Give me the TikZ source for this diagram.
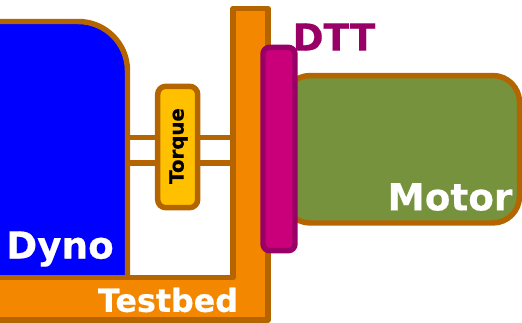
\documentclass[tikz,border=0pt]{standalone}
\usepackage{fontspec}
\setmainfont[BoldFeatures={FakeBold=0.5}]{DejaVu Sans}
\usetikzlibrary{positioning}
\definecolor{rimbrown}{RGB}{180, 101, 0}
\definecolor{bedorange}{RGB}{243, 136, 0}
\definecolor{torqueyellow}{RGB}{255, 192, 0}
\definecolor{motorgreen}{RGB}{118, 146, 60}
\definecolor{dttpink}{RGB}{201, 0, 122}
\definecolor{dttdark}{RGB}{153, 0, 102}
\tikzset{
  part/.style={draw=rimbrown, line width=4.1pt, line join=round},
  biglabel/.style={font=\bfseries\fontsize{28}{30}\selectfont, inner sep=0pt},
}

\begin{document}
\begin{tikzpicture}[x=0.75pt, y=-0.75pt]
    \clip (0,0) rectangle (522,322);

    % Shafts
    \coordinate (shaftA) at (127.5,137.5);
    \coordinate (shaftB) at (127.5,163);
    \coordinate (bedface) at (233,150);
    \foreach \s in {shaftA, shaftB}
      \draw[part] (\s) -- (bedface |- \s);

    % Dyno
    \draw[part, fill=blue, rounded corners=37pt] (-80,277.5) -- (-80,21.5) -- (127.5,21.5) -- (127.5,340) -- cycle;
    \node[biglabel, text=white] (dyno) at (60,249) {Dyno};

    % Testbed
    \draw[part, fill=bedorange] (-40,277.5) -- (233,277.5) -- (233,8.5) -- (268,8.5) -- (268,320) -- (-40,320) -- cycle;
    \node[biglabel, text=white, font=\bfseries\fontsize{23.8}{26}\selectfont] (testbed) at (168,300) {Testbed};

    % Torque sensor
    \node[part, fill=torqueyellow, rounded corners=6pt, minimum width=30pt, minimum height=91pt, inner sep=0pt] (torque) at (177.7,147) {};
    \node[rotate=90, inner sep=0pt, font=\bfseries\fontsize{14.8}{16}\selectfont] (torquelabel) at (178.5,146) {Torque};

    % Motor
    \node[part, fill=motorgreen, rounded corners=20pt, minimum width=177pt, minimum height=110.6pt, inner sep=0pt] (motor) at (401.5,149.25) {};
    \node[biglabel, text=white] (motorlabel) at (450,197) {Motor};

    % DTT
    \node[part, draw=dttdark, fill=dttpink, rounded corners=5pt, minimum width=24pt, minimum height=152.5pt, inner sep=0pt] (dtt) at (279,149) {};
    \node[biglabel, text=dttdark] (dttlabel) at (334,37) {DTT};
\end{tikzpicture}
\end{document}
